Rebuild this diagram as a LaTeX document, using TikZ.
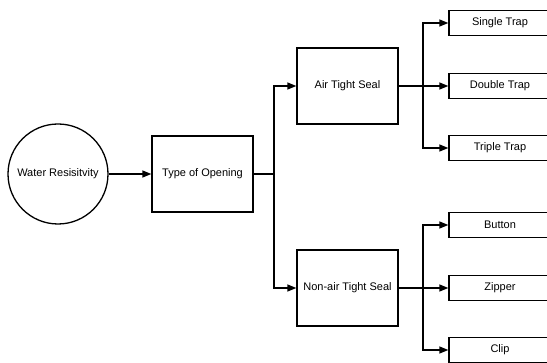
\documentclass[tikz,border=0pt]{standalone}
\usepackage{fontspec}
\setmainfont{Liberation Sans}
\usetikzlibrary{arrows.meta}
\begin{document}
\begin{tikzpicture}
[x=1pt,y=-1pt,
  arrowDecorate/.style={-{Triangle[length=9pt,width=7pt]},line width=1.3pt},%
  lineDecorate/.style={line width=1.3pt},%
  nodeDecorate/.style={draw,line width=1.3pt,inner sep=0pt,font=\fontsize{11}{13}\selectfont},%
  bigDecorate/.style={nodeDecorate,minimum width=101pt,minimum height=76pt},%
  leafDecorate/.style={nodeDecorate,minimum width=102pt,minimum height=25pt}]
\useasboundingbox (0,0) rectangle (547,363);
\clip (0,0) rectangle (547,363);
%% nodes
\node (water) at (58,174) [nodeDecorate,shape=circle,minimum size=100pt] {Water Resisitvity};
\node (opening) at (202.5,174) [bigDecorate] {Type of Opening};
\node (air) at (347.5,86) [bigDecorate] {Air Tight Seal};
\node (nonair) at (347.5,288) [bigDecorate] {Non-air Tight Seal};
\foreach \nodename/\y/\label in {
  single/23/Single Trap, double/86/Double Trap, triple/148/Triple Trap,
  button/225/Button, zipper/288/Zipper, clip/350/Clip}
{
  \node (\nodename) at (500,\y) [leafDecorate] {\label};
}
%% branch points
\coordinate (splitOpening) at (274,174);
\coordinate (splitAir) at (423,86);
\coordinate (splitNonair) at (423,288);
%% edges
\draw[arrowDecorate] (water) -- (opening);
\draw[lineDecorate] (opening) -- (splitOpening);
\foreach \endnode in {air, nonair}
  \draw[arrowDecorate] (splitOpening) |- (\endnode);
\draw[arrowDecorate] (air) -- (double);
\draw[arrowDecorate] (nonair) -- (zipper);
\foreach \startnode/\endnode in {
  splitAir/single, splitAir/triple, splitNonair/button, splitNonair/clip}
{
  \draw[arrowDecorate] (\startnode) |- (\endnode);
}
\end{tikzpicture}
\end{document}
